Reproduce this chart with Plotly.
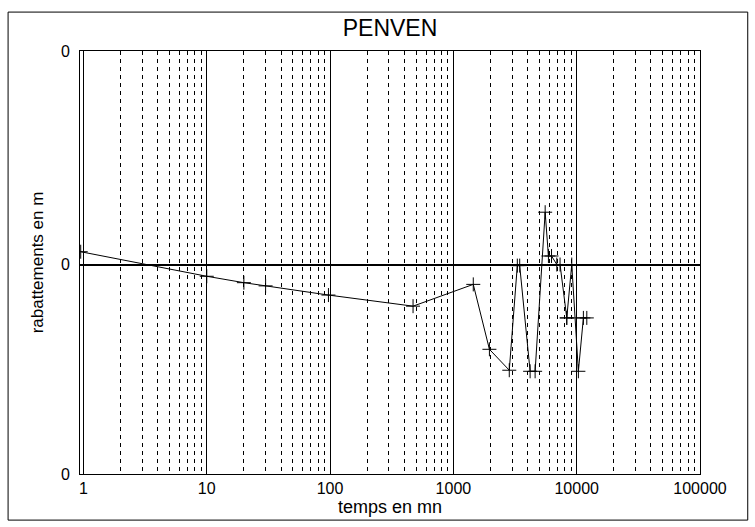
import plotly.graph_objects as go

# data
temps = [0.95, 10, 20, 30, 97, 471, 1450, 1960, 2840, 3300, 3450, 4190, 4600,
         5550, 5900, 6250, 6900, 7330, 8310, 9120, 10320, 11330, 12080, 8310]
rabattements = [0.06, -0.055, -0.085, -0.10, -0.143, -0.195, -0.093, -0.397,
                -0.495, -0.005, -0.005, -0.50, -0.50, 0.245, 0.04, 0.04, 0.0,
                0.0, -0.25, 0.0, -0.50, -0.25, -0.25, -0.25]
x_ticks = [1, 10, 100, 1000, 10000, 100000]
x_ticktext = ["1", "10", "100", "1000", "10000", "100000"]
y_ticks = [-0.981, 0, 1]
y_ticktext = ["0", "0", "0"]

font = "Liberation Sans, Arial, sans-serif"

fig = go.Figure()
fig.add_trace(go.Scatter(
    x=temps, y=rabattements, mode="lines+markers",
    line=dict(color="black", width=1),
    marker=dict(symbol="cross-thin", size=10, line=dict(color="black", width=1)),
    showlegend=False, cliponaxis=True,
))

fig.update_layout(
    width=755, height=527,
    margin=dict(l=80, r=55, t=51, b=53),
    paper_bgcolor="white", plot_bgcolor="white",
    title=dict(text="PENVEN", x=0.5, xanchor="center", xref="paper",
               y=1 - 28 / 527, yanchor="middle",
               font=dict(family=font, size=23, color="black")),
    font=dict(family=font, color="black"),
    xaxis=dict(
        type="log", range=[-0.028, 5.0],
        tickvals=x_ticks, ticktext=x_ticktext,
        tickfont=dict(size=16), ticks="",
        showgrid=True, gridcolor="black", gridwidth=1,
        minor=dict(dtick="D1", showgrid=True, gridcolor="black",
                   griddash="4px,4px", gridwidth=1, ticks=""),
        showline=True, linecolor="black", linewidth=1, mirror=True,
        zeroline=False,
        title=dict(text="temps en mn", font=dict(size=18), standoff=4),
    ),
    yaxis=dict(
        range=[-0.981, 1], tickvals=y_ticks, ticktext=y_ticktext,
        tickfont=dict(size=16), ticks="", ticklabelstandoff=6,
        showgrid=False, zeroline=True, zerolinecolor="black", zerolinewidth=1.5,
        showline=True, linecolor="black", linewidth=1, mirror=True,
        title=dict(text="rabattements en m", font=dict(size=17), standoff=12),
    ),
    shapes=[dict(type="rect", xref="paper", yref="paper",
                 x0=-0.116, x1=1.077, y0=-0.109, y1=1.092,
                 line=dict(color="black", width=1), fillcolor="rgba(0,0,0,0)")],
)

fig.write_html("out.html")
